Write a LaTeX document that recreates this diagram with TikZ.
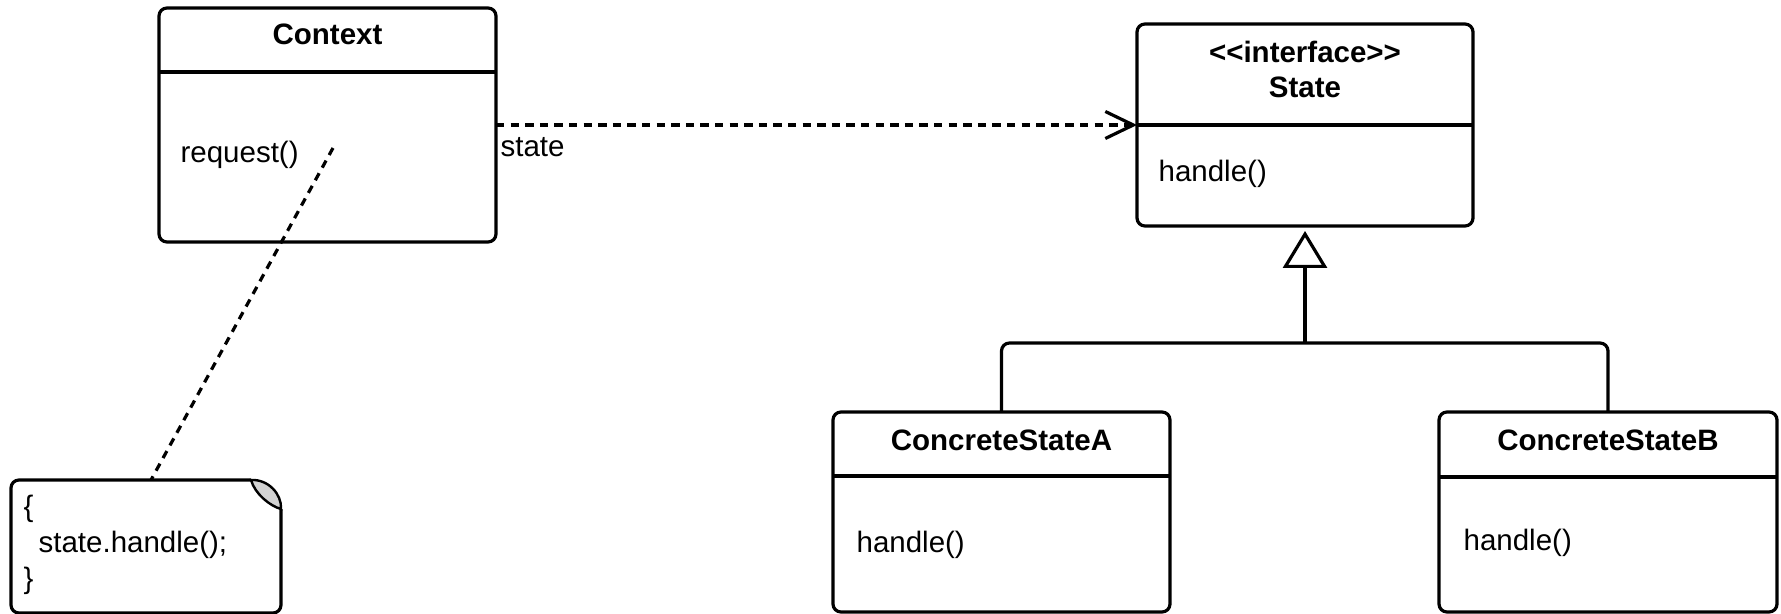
\documentclass[tikz,border=0pt]{standalone}
\usepackage{fontspec}
\setmainfont{Liberation Sans}[Ligatures=TeXOff]
\usetikzlibrary{arrows.meta,calc}
\begin{document}
\begin{tikzpicture}[x=0.5pt,y=-0.5pt,
  line width=1.6pt,
  every node/.style={font=\fontsize{14.75}{18}\selectfont},
  classbox/.style={draw, rounded corners=4pt, inner sep=0pt, outer sep=0pt, minimum width=168.5pt},
  titletext/.style={font=\fontsize{14.75}{18}\selectfont\bfseries, anchor=base, inner sep=0pt},
  member/.style={anchor=base west, inner sep=0pt},
  dep/.style={dash pattern=on 4.2pt off 3.1pt},
  notelink/.style={dash pattern=on 4pt off 3.2pt},
]
\fill[white] (0,0) rectangle (1781,614);
\useasboundingbox (0,0) rectangle (1781,614);

% Context
\node[classbox, minimum height=117pt] (context) at (327.5,125) {};
\draw (context.west |- 0,72) -- (context.east |- 0,72);
\node[titletext] (ctxname) at (327.5,45) {Context};
\node[member] (ctxreq) at (179,163) {request()};

% State
\node[classbox, minimum width=168pt, minimum height=101pt] (state) at (1305,125) {};
\draw (state.west) -- (state.east);
\node[titletext] (stster) at (1305,63) {<<interface>>};
\node[titletext] (stname) at (1305,98) {State};
\node[member] (sthandle) at (1157,182) {handle()};

% ConcreteStateA
\node[classbox, minimum height=100pt] (csa) at (1001.5,512) {};
\draw (csa.west |- 0,476) -- (csa.east |- 0,476);
\node[titletext] (csaname) at (1001.5,450) {ConcreteStateA};
\node[member] (csahandle) at (855,552) {handle()};

% ConcreteStateB
\node[classbox, minimum width=169pt, minimum height=100pt] (csb) at (1608,512) {};
\draw (csb.west |- 0,477) -- (csb.east |- 0,477);
\node[titletext] (csbname) at (1608,450) {ConcreteStateB};
\node[member] (csbhandle) at (1462,550) {handle()};

% Note
\node[inner sep=0pt, outer sep=0pt, minimum width=135pt, minimum height=66.5pt] (note) at (146,546.5) {};
\draw[rounded corners=4pt] (251,480) -- (note.north west) -- (note.south west) -- (note.south east) -- (281,509);
\filldraw[fill=gray!35, line width=1.2pt] (251,480) .. controls (268,479) and (282,494) .. (281,509)
  .. controls (270,506) and (255,494) .. (251,480) -- cycle;
\node[member] (nl1) at (22,516) {\{};
\node[member] (nl2) at (37,552) {state.handle();};
\node[member] (nl3) at (22,588) {\}};

% dependency
\draw[dep, -{Straight Barb[length=14pt, width=13.5pt]}] (context.east) -- (state.west);
\node[member] (statelbl) at (499,157) {state};

% note link
\coordinate (reqpt) at (333,148);
\draw[notelink] (reqpt) -- ([xshift=2.5pt]note.north);

% generalization
\coordinate (bus) at (1305,343);
\draw[rounded corners=4pt] (csa.north) |- (bus) -| (csb.north);
\draw[-{Triangle[open, length=18.5pt, width=22pt]}] (bus) -- ([yshift=-2.5pt]state.south);
\end{tikzpicture}
\end{document}
